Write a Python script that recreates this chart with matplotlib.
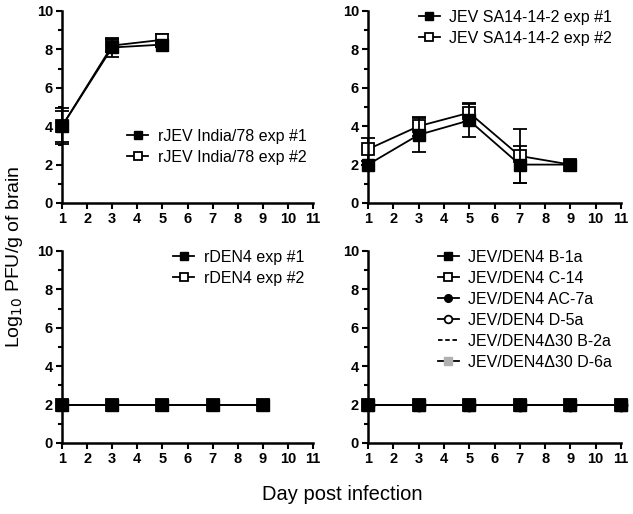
import matplotlib
matplotlib.use("Agg")
import matplotlib.pyplot as plt
from matplotlib.ticker import MultipleLocator
from matplotlib.lines import Line2D
import numpy as np

plt.rcParams['font.family'] = ['Liberation Sans', 'DejaVu Sans']

# top-left: rJEV India/78
days_a = [1, 3, 5]
india_1 = [4.0, 8.1, 8.25]
india_1_err = [0.95, 0.5, 0.1]
india_2 = [4.0, 8.2, 8.5]
india_2_err = [0.8, 0.35, 0.3]

# top-right: JEV SA14-14-2
days_b = [1, 3, 5, 7, 9]
sa_1 = [2.0, 3.55, 4.3, 2.0, 2.0]
sa_1_err = [0.0, 0.9, 0.85, 0.95, 0.0]
sa_2 = [2.8, 4.0, 4.7, 2.45, 2.0]
sa_2_err = [0.6, 0.5, 0.5, 1.4, 0.0]

# bottom-left: rDEN4
days_c = [1, 3, 5, 7, 9]
den_1 = [2.0, 2.0, 2.0, 2.0, 2.0]
den_2 = [2.0, 2.0, 2.0, 2.0, 2.0]

# bottom-right: chimeras
days_d = [1, 3, 5, 7, 9, 11]
chim_names = ['JEV/DEN4 B-1a', 'JEV/DEN4 C-14', 'JEV/DEN4 AC-7a',
              'JEV/DEN4 D-5a', 'JEV/DEN4\u039430 B-2a', 'JEV/DEN4\u039430 D-6a']
chim_vals = [[2.0] * 6 for _ in chim_names]

fig = plt.figure(figsize=(6.33, 5.14), dpi=100)
W, H = 633, 514
def box(x0, x1, ytop, ybot):
    return [x0 / W, 1 - ybot / H, (x1 - x0) / W, (ybot - ytop) / H]

ax1 = fig.add_axes(box(62, 313, 11, 203))
ax2 = fig.add_axes(box(368, 621, 11, 203))
ax3 = fig.add_axes(box(62, 313, 251, 443))
ax4 = fig.add_axes(box(368, 621, 251, 443))

lw = 1.3
ms = 8.5
sq_fill = dict(marker='s', color='black', mfc='black', mec='black', ms=ms, lw=lw)
sq_open = dict(marker='s', color='black', mfc='white', mec='black', ms=ms, lw=lw, mew=1.3)

def style(ax):
    ax.set_xlim(1, 11)
    ax.set_ylim(0, 10)
    ax.set_xticks(range(1, 12))
    ax.set_yticks(range(0, 11, 2))
    ax.yaxis.set_minor_locator(MultipleLocator(1))
    for s in ['top', 'right']:
        ax.spines[s].set_visible(False)
    for s in ['left', 'bottom']:
        ax.spines[s].set_linewidth(1.8)
    ax.tick_params(which='both', direction='out', width=1.5, labelsize=10.5, pad=2)
    ax.tick_params(which='major', length=4.5)
    ax.tick_params(which='minor', length=3)
    for lab in ax.get_xticklabels() + ax.get_yticklabels():
        lab.set_fontweight('bold')

def legend(ax, handles, labels, loc, anchor):
    return ax.legend(handles, labels, loc=loc, bbox_to_anchor=anchor, frameon=False,
                     fontsize=11.5, handlelength=1.3, handletextpad=0.6,
                     labelspacing=0.38, borderaxespad=0, markerscale=0.65)

def handle(st):
    return Line2D([], [], **st)

ekw = dict(capsize=5, elinewidth=1.3, capthick=1.3, clip_on=False)
ax1.errorbar(days_a, india_2, yerr=india_2_err, zorder=2, **sq_open, **ekw)
ax1.errorbar(days_a, india_1, yerr=india_1_err, zorder=3, **sq_fill, **ekw)
style(ax1)
legend(ax1, [handle(sq_fill), handle(sq_open)],
       ['rJEV India/78 exp #1', 'rJEV India/78 exp #2'], 'upper left', (0.235, 0.42))

ax2.errorbar(days_b, sa_2, yerr=sa_2_err, zorder=2, **sq_open, **ekw)
ax2.errorbar(days_b, sa_1, yerr=sa_1_err, zorder=3, **sq_fill, **ekw)
style(ax2)
legend(ax2, [handle(sq_fill), handle(sq_open)],
       ['JEV SA14-14-2 exp #1', 'JEV SA14-14-2 exp #2'], 'upper right', (0.99, 1.04))

ax3.plot(days_c, den_2, clip_on=False, zorder=2, **sq_open)
ax3.plot(days_c, den_1, clip_on=False, zorder=3, **sq_fill)
style(ax3)
legend(ax3, [handle(sq_fill), handle(sq_open)],
       ['rDEN4 exp #1', 'rDEN4 exp #2'], 'upper right', (0.99, 1.04))

chim_styles = [
    dict(marker='s', color='black', mfc='black', mec='black', ms=ms, lw=lw),
    dict(marker='s', color='black', mfc='white', mec='black', ms=ms, lw=lw, mew=1.3),
    dict(marker='o', color='black', mfc='black', mec='black', ms=ms, lw=lw),
    dict(marker='o', color='black', mfc='white', mec='black', ms=ms, lw=lw, mew=1.3),
    dict(marker='none', color='black', lw=lw, ls=(0, (2.5, 1.5))),
    dict(marker='s', color='black', mfc='#b0b0b0', mec='#b0b0b0', ms=ms, lw=lw),
]
zs = [10, 9, 8, 7, 6, 5]
for vals, st, z in zip(chim_vals, chim_styles, zs):
    ax4.plot(days_d, vals, clip_on=False, zorder=z, **st)
style(ax4)
legend(ax4, [handle(st) for st in chim_styles], chim_names, 'upper right', (0.99, 1.04))

fig.text(15 / W, 1 - 257 / H, 'Log$_{10}$ PFU/g of brain', rotation=90,
         ha='center', va='center', fontsize=14)
fig.text(342 / W, 1 - 495 / H, 'Day post infection', ha='center', va='center', fontsize=14.5)

fig.savefig('out.png', dpi=100)
